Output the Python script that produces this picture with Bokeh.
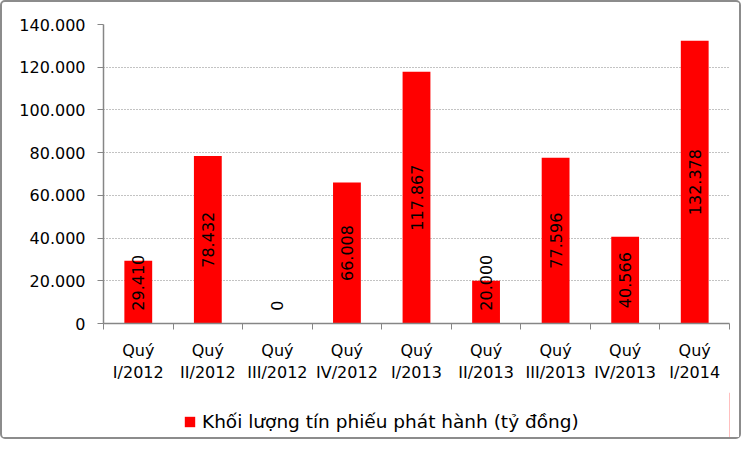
import math
from bokeh.plotting import figure
from bokeh.layouts import column
from bokeh.models import (ColumnDataSource, FixedTicker, Legend, LegendItem, Range1d)
from bokeh.core.properties import value
from bokeh.embed import file_html
from bokeh.resources import INLINE

# ---- data ----
categories = ["Quý\nI/2012", "Quý\nII/2012", "Quý\nIII/2012", "Quý\nIV/2012", "Quý\nI/2013",
              "Quý\nII/2013", "Quý\nIII/2013", "Quý\nIV/2013", "Quý\nI/2014"]
values = [29410, 78432, 0, 66008, 117867, 20000, 77596, 40566, 132378]
value_labels = ["29.410", "78.432", "0", "66.008", "117.867", "20.000", "77.596", "40.566", "132.378"]
y_ticks = [0, 20000, 40000, 60000, 80000, 100000, 120000, 140000]
y_tick_labels = ["0", "20.000", "40.000", "60.000", "80.000", "100.000", "120.000", "140.000"]
series_name = "Khối lượng tín phiếu phát hành (tỷ đồng)"

FONT = "DejaVu Sans"
RED = "#FF0000"
GRAY = "#868686"
W = 737

n = len(categories)
xs = [i + 0.5 for i in range(n)]

p = figure(width=W, height=390, output_backend="svg", toolbar_location=None,
           x_range=Range1d(0, n), y_range=Range1d(0, 140000),
           min_border_left=101, min_border_right=10, min_border_top=22, min_border_bottom=69)
p.outline_line_color = None
p.background_fill_color = "white"
p.border_fill_color = "white"

src = ColumnDataSource(dict(x=xs, top=values))
bars = p.vbar(x="x", top="top", width=0.4, bottom=0, source=src,
              fill_color=RED, line_color=None)

# value labels: centred in the bar, or anchored near the base if the bar is too short
label_floor = 6000
label_half = 13500
cx, cy, ct, lx, ly, lt = [], [], [], [], [], []
for x, v, t in zip(xs, values, value_labels):
    if v / 2 - label_half >= label_floor:
        cx.append(x); cy.append(v / 2); ct.append(t)
    else:
        lx.append(x); ly.append(label_floor); lt.append(t)
p.text(x=cx, y=cy, text=ct, angle=math.pi / 2, text_align="center", text_baseline="middle",
       text_font=value(FONT), text_font_size="16px", text_color="black")
p.text(x=lx, y=ly, text=lt, angle=math.pi / 2, text_align="left", text_baseline="middle",
       text_font=value(FONT), text_font_size="16px", text_color="black")

# x axis: labels at centres, ticks at boundaries (minor ticks)
xa = p.xaxis[0]
xa.ticker = FixedTicker(ticks=xs, minor_ticks=list(range(n + 1)))
xa.major_label_overrides = {x: c for x, c in zip(xs, categories)}
xa.major_tick_line_color = None
xa.minor_tick_in = 0
xa.minor_tick_out = 6
xa.minor_tick_line_color = GRAY
xa.axis_line_color = GRAY
xa.axis_line_width = 1.5
xa.major_label_text_font = FONT
xa.major_label_text_font_size = "16px"
xa.major_label_text_color = "black"
xa.major_label_standoff = 11

ya = p.yaxis[0]
ya.ticker = FixedTicker(ticks=y_ticks)
ya.major_label_overrides = {t: l for t, l in zip(y_ticks, y_tick_labels)}
ya.minor_tick_line_color = None
ya.major_tick_in = 0
ya.major_tick_out = 6
ya.major_tick_line_color = GRAY
ya.axis_line_color = GRAY
ya.axis_line_width = 1.5
ya.major_label_text_font = FONT
ya.major_label_text_font_size = "16px"
ya.major_label_text_color = "black"
ya.major_label_standoff = 12

p.xgrid.grid_line_color = None
p.ygrid.grid_line_color = GRAY
p.ygrid.grid_line_dash = "1 2"
p.ygrid.grid_line_width = 1

# legend in its own strip below the chart (frame aligned with the chart's frame)
lf = figure(width=W, height=45, output_backend="svg", toolbar_location=None,
            x_range=Range1d(0, 1), y_range=Range1d(0, 1), min_border=0)
lf.axis.visible = False
lf.grid.grid_line_color = None
lf.outline_line_color = None
lf.border_fill_color = "white"
key = lf.vbar(x=[5], top=[1], width=0.4, fill_color=RED, line_color=None)  # off-screen swatch source
legend = Legend(items=[LegendItem(label=series_name, renderers=[key])],
                orientation="horizontal", location=(80, 5),
                border_line_color=None, background_fill_alpha=0,
                label_text_font=FONT, label_text_font_size="18.5px", label_text_color="black",
                glyph_width=13, glyph_height=13, label_standoff=6, margin=0, padding=2)
lf.add_layout(legend, "center")

layout = column(p, lf, spacing=0,
                styles={"border": "2px solid #8c8c8c", "border-radius": "5px"})

open("out.html", "w").write(file_html(layout, INLINE))
